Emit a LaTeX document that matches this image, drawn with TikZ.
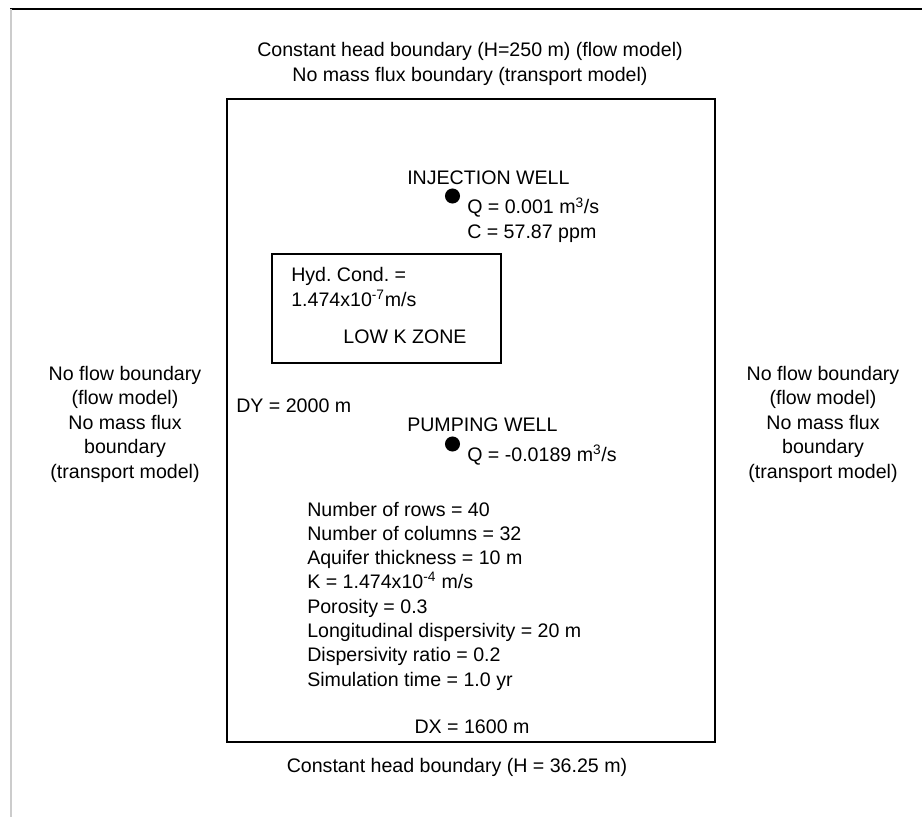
\documentclass[tikz,border=0pt]{standalone}
\usepackage{fontspec}
\setmainfont{Liberation Sans}
\usetikzlibrary{positioning}
\frenchspacing

\begin{document}
\begin{tikzpicture}[
    x=0.75pt, y=-0.75pt,
    font=\fontsize{14.7}{18.4}\selectfont,
    bnd/.style={align=center, inner sep=0pt},
    txt/.style={align=left, inner sep=0pt, anchor=west},
    zone/.style={draw, line width=1.4pt, inner sep=0pt},
    well/.style={circle, fill=black, inner sep=0pt, minimum size=11.3pt},
]
\useasboundingbox (0,0) rectangle (922,817);

% page frame
\draw[line width=0.8pt] (10,9) -- (922,9);
\draw[black!20, line width=0.8pt] (11,9) -- (11,817);

% model domain
\node[zone, minimum width=366pt, minimum height=482.3pt] (domain) at (471,420.5) {};

% boundaries
\node[bnd] (north) at (470,64)
    {Constant head boundary (H=250 m) (flow model)\\No mass flux boundary (transport model)};
\node[bnd] (south) at (457,767) {Constant head boundary (H = 36.25 m)};
\node[bnd] (west) at (125,424)
    {No flow boundary\\(flow model)\\No mass flux\\boundary\\(transport model)};
\node[bnd] (east) at (823,424)
    {No flow boundary\\(flow model)\\No mass flux\\boundary\\(transport model)};

% dimensions
\node[txt] (dy) at (236,406) {DY = 2000 m};
\node[bnd] (dx) at (472,727) {DX = 1600 m};

% low K zone
\node[zone, minimum width=171.8pt, minimum height=81.8pt] (lowk) at (386.5,308.5) {};
\node[txt] (hyd) at (291,287) {Hyd. Cond. =\\1.474x10\textsuperscript{-7}m/s};
\node[bnd] (lowklbl) at (405,337) {LOW K ZONE};

% injection well
\node[txt] (injlbl) at (407,178) {INJECTION WELL};
\node[well] (injw) at (452.5,196) {};
\node[txt] (injq) at (467,220) {Q = 0.001 m\textsuperscript{3}/s\\C = 57.87 ppm};

% pumping well
\node[txt] (pmplbl) at (407,425) {PUMPING WELL};
\node[well] (pmpw) at (452.5,444) {};
\node[txt] (pmpq) at (467,455) {Q = -0.0189 m\textsuperscript{3}/s};

% model parameters
\node[txt, font=\fontsize{14.7}{18.2}\selectfont] (params) at (307,596)
    {Number of rows = 40\\
     Number of columns = 32\\
     Aquifer thickness = 10 m\\
     K = 1.474x10\textsuperscript{-4} m/s\\
     Porosity = 0.3\\
     Longitudinal dispersivity = 20 m\\
     Dispersivity ratio = 0.2\\
     Simulation time = 1.0 yr};

\end{tikzpicture}
\end{document}
